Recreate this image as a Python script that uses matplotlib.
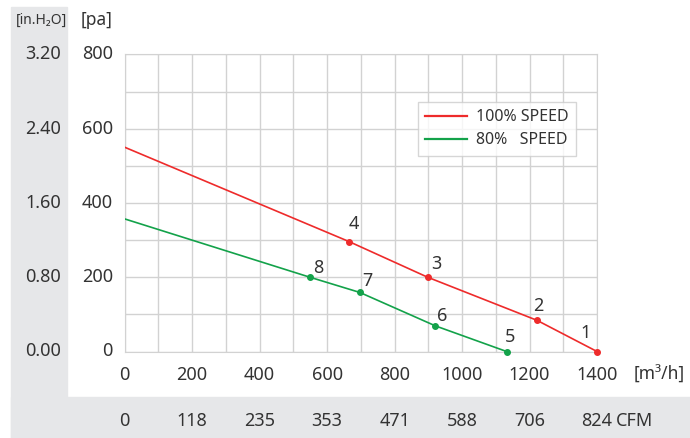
import matplotlib.pyplot as plt
from matplotlib.patches import Rectangle
from matplotlib.transforms import blended_transform_factory

plt.rcParams['font.family'] = ['Noto Sans', 'DejaVu Sans']

# data
flow_100 = [0, 665, 898, 1222, 1400]
pres_100 = [550, 296, 200, 84, 0]
pts_100 = ['', '4', '3', '2', '1']

flow_80 = [0, 549, 697, 921, 1132]
pres_80 = [357, 200, 159, 69, 0]
pts_80 = ['', '8', '7', '6', '5']

x_ticks = [0, 200, 400, 600, 800, 1000, 1200, 1400]
cfm_labels = ['0', '118', '235', '353', '471', '588', '706', '824']
pa_ticks = [0, 200, 400, 600, 800]
inch_labels = ['0.00', '0.80', '1.60', '2.40', '3.20']

W, H = 690, 438
fig = plt.figure(figsize=(W / 100, H / 100), dpi=100)

# grey bands
grey = '#e6e7e9'
fig.patches.append(Rectangle((11 / W, 0), (67 - 11) / W, (H - 7) / H,
                             transform=fig.transFigure, color=grey, zorder=-5))
fig.patches.append(Rectangle((11 / W, 0), (W - 11) / W, (H - 397) / H,
                             transform=fig.transFigure, color=grey, zorder=-5))

x0, x1, y0, y1 = 124.7, 597.0, 54.4, 351.5
ax = fig.add_axes([x0 / W, 1 - y1 / H, (x1 - x0) / W, (y1 - y0) / H])
ax.set_facecolor('none')
ax.set_xlim(0, 1400)
ax.set_ylim(0, 800)

ax.set_xticks(range(0, 1401, 100))
ax.set_yticks(range(0, 801, 100))
ax.grid(True, color='#d2d2d2', lw=1)
ax.set_axisbelow(True)
for s in ax.spines.values():
    s.set_color('#d2d2d2')
ax.tick_params(length=0, labelbottom=False, labelleft=False)

red = '#ee2b2b'
green = '#13a24a'
ax.plot(flow_100, pres_100, color=red, lw=1.2, label='100% SPEED', zorder=3)
ax.plot(flow_80, pres_80, color=green, lw=1.2, label='80%   SPEED', zorder=3)
ax.plot(flow_100[1:], pres_100[1:], 'o', color=red, ms=4, zorder=4, clip_on=False)
ax.plot(flow_80[1:], pres_80[1:], 'o', color=green, ms=4, zorder=4, clip_on=False)

offs_100 = [None, (5, 18), (9, 13), (1, 14), (-11, 18)]
offs_80 = [None, (8, 9), (8, 11), (7, 10), (3, 14)]
txt = '#333333'
fs = 13
for fx, py, lab, off in zip(flow_100 + flow_80, pres_100 + pres_80,
                            pts_100 + pts_80, offs_100 + offs_80):
    if lab:
        ax.annotate(lab, (fx, py), xytext=off, textcoords='offset pixels',
                    ha='center', va='center', fontsize=fs, color=txt)

leg = ax.legend(loc='upper left', bbox_to_anchor=((418 - x0) / (x1 - x0), 1 - (102 - y0) / (y1 - y0)),
                fontsize=11.5, frameon=True, fancybox=False, handlelength=2.6,
                borderpad=0.45, labelspacing=0.45, handletextpad=0.6, borderaxespad=0)
leg.get_frame().set_edgecolor('#cccccc')
leg.get_frame().set_linewidth(1)
for t in leg.get_texts():
    t.set_color(txt)
for h in leg.get_lines():
    h.set_linewidth(1.6)

# tick labels
tx = blended_transform_factory(ax.transData, fig.transFigure)
for v, c in zip(x_ticks, cfm_labels):
    ax.text(v, 1 - 375 / H, str(v), transform=tx, ha='center', va='center',
            fontsize=fs, color=txt)
    ax.text(v, 1 - 421 / H, c, transform=tx, ha='center', va='center',
            fontsize=fs, color=txt)
fig.text(616 / W, 1 - 421 / H, 'CFM', ha='left', va='center', fontsize=fs, color=txt)
ty = blended_transform_factory(fig.transFigure, ax.transData)
for v, il in zip(pa_ticks, inch_labels):
    ax.text(113 / W, v, str(v), transform=ty, ha='right', va='center',
            fontsize=fs, color=txt)
    ax.text(61 / W, v, il, transform=ty, ha='right', va='center',
            fontsize=fs, color=txt)

fig.text(16 / W, 1 - 20 / H, '[in.H₂O]', ha='left', va='center', fontsize=10, color=txt)
fig.text(81 / W, 1 - 20 / H, '[pa]', ha='left', va='center', fontsize=12.5, color=txt)
fig.text(634 / W, 1 - 375 / H, '[m³/h]', ha='left', va='center', fontsize=12.5, color=txt)

fig.savefig('out.png', dpi=100)
